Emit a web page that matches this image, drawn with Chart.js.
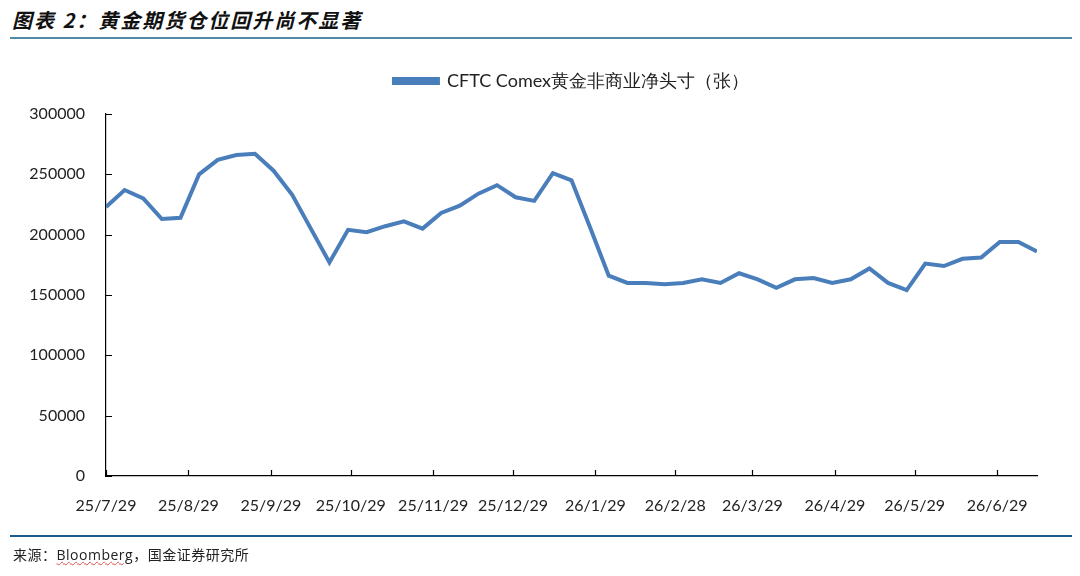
<!DOCTYPE html>
<html>
<head>
<meta charset="utf-8">
<script src="https://cdn.jsdelivr.net/npm/chart.js@4.4.1/dist/chart.umd.min.js"></script>
<style>
    html, body { margin: 0; padding: 0; background: #fff; }
    #wrap { position: relative; width: 1080px; height: 576px; overflow: hidden; }
    #chart_cot { position: absolute; left: 0; top: 0; }
    #titulo {
        position: absolute; left: 12px; top: 5px;
        font-family: "Noto Sans CJK SC", sans-serif; font-size: 20px;
        font-style: italic; font-weight: bold; color: #111; letter-spacing: 2px;
    }
    #linha_topo { position: absolute; left: 10px; top: 37px; width: 1062px; height: 2px; background: #4f8aa6; }
    #linha_base { position: absolute; left: 10px; top: 535px; width: 1062px; height: 2px; background: #1f5a88; }
    #fonte {
        position: absolute; left: 13px; top: 544px;
        font-family: "Noto Sans CJK SC", sans-serif; font-size: 14px; color: #222; letter-spacing: 0.5px;
    }
    #fonte span { font-family: "Open Sans", sans-serif; text-decoration: underline wavy #e05050; text-decoration-thickness: 1px; }
</style>
</head>
<body>
<div id="wrap">
    <div id="titulo">图表 2：黄金期货仓位回升尚不显著</div>
    <div id="linha_topo"></div>
    <canvas id="chart_cot" width="1080" height="576"></canvas>
    <div id="linha_base"></div>
    <div id="fonte">来源：<span>Bloomberg</span>，国金证券研究所</div>
</div>
<script>
// datas semanais (terças-feiras) do relatório CFTC
const datas = ['2025-07-29', '2025-08-05', '2025-08-12', '2025-08-19', '2025-08-26', '2025-09-02', '2025-09-09', '2025-09-16', '2025-09-23', '2025-09-30',
    '2025-10-07', '2025-10-14', '2025-10-21', '2025-10-28', '2025-11-04', '2025-11-11', '2025-11-18', '2025-11-25', '2025-12-02', '2025-12-09',
    '2025-12-16', '2025-12-23', '2025-12-30', '2026-01-06', '2026-01-13', '2026-01-20', '2026-01-27', '2026-02-03', '2026-02-10', '2026-02-17',
    '2026-02-24', '2026-03-03', '2026-03-10', '2026-03-17', '2026-03-24', '2026-03-31', '2026-04-07', '2026-04-14', '2026-04-21', '2026-04-28',
    '2026-05-05', '2026-05-12', '2026-05-19', '2026-05-26', '2026-06-02', '2026-06-09', '2026-06-16', '2026-06-23', '2026-06-30', '2026-07-07',
    '2026-07-14'];

const posicoes = [223000, 237000, 230000, 213000, 214000, 250000, 262000, 266000, 267000, 253000,
    233000, 205000, 177000, 204000, 202000, 207000, 211000, 205000, 218000, 224000,
    234000, 241000, 231000, 228000, 251000, 245000, 206000, 166000, 160000, 160000,
    159000, 160000, 163000, 160000, 168000, 163000, 156000, 163000, 164000, 160000,
    163000, 172000, 160000, 154000, 176000, 174000, 180000, 181000, 194000, 194000,
    186000];

const datasEixo = ['2025-07-29', '2025-08-29', '2025-09-29', '2025-10-29', '2025-11-29', '2025-12-29', '2026-01-29', '2026-02-28', '2026-03-29', '2026-04-29', '2026-05-29', '2026-06-29'];
const rotulosEixo = ['25/7/29', '25/8/29', '25/9/29', '25/10/29', '25/11/29', '25/12/29', '26/1/29', '26/2/28', '26/3/29', '26/4/29', '26/5/29', '26/6/29'];

const inicio = Date.parse(datas[0]);
function dias(d) { return Math.round((Date.parse(d) - inicio) / 86400000); } // dias desde o início

const pontos = datas.map((d, i) => ({ x: dias(d), y: posicoes[i] }));
const ticksX = datasEixo.map(dias);

const azul = '#4a7ebb';

// legenda centrada na área do gráfico + marcas dos eixos para dentro
const ajustes = {
    id: 'ajustes',
    beforeInit(chart) {
        const fitOriginal = chart.legend.fit;
        chart.legend.fit = function () {
            fitOriginal.bind(chart.legend)();
            this.height += 14;
        };
    },
    afterLayout(chart) {
        const lg = chart.legend;
        lg.left = chart.chartArea.left;
        lg.right = chart.chartArea.right;
        lg.width = lg.right - lg.left;
    },
    afterDraw(chart) {
        const c = chart.ctx;
        const x = chart.scales.x, y = chart.scales.y;
        c.save();
        c.strokeStyle = '#000';
        c.lineWidth = 1.2;
        c.beginPath();
        x.ticks.forEach(t => {
            const px = Math.round(x.getPixelForValue(t.value)) + 0.5;
            c.moveTo(px, y.bottom);
            c.lineTo(px, y.bottom - 6);
        });
        y.ticks.forEach(t => {
            const py = Math.round(y.getPixelForValue(t.value)) + 0.5;
            c.moveTo(x.left, py);
            c.lineTo(x.left + 6, py);
        });
        c.stroke();
        c.restore();
    }
};

new Chart(document.getElementById('chart_cot'), {
    type: 'line',
    data: {
        datasets: [{
            label: 'CFTC Comex黄金非商业净头寸（张）',
            data: pontos,
            borderColor: azul,
            backgroundColor: azul,
            borderWidth: 4,
            pointRadius: 0,
            tension: 0
        }]
    },
    options: {
        responsive: false,
        animation: false,
        layout: {
            padding: { top: 62, left: 0, right: 43, bottom: 60 }
        },
        scales: {
            x: {
                type: 'linear',
                min: 0,
                max: 350,
                afterBuildTicks(scale) {
                    scale.ticks = ticksX.map(v => ({ value: v }));
                },
                afterFit(scale) { scale.height = 40; },
                grid: { display: false },
                border: { display: true, color: '#000', width: 1.2 },
                ticks: {
                    autoSkip: false,
                    maxRotation: 0,
                    padding: 12,
                    color: '#222',
                    font: { family: 'Lato', size: 16 },
                    callback: (v) => rotulosEixo[ticksX.indexOf(v)]
                }
            },
            y: {
                min: 0,
                max: 300000,
                afterFit(scale) { scale.width = 106; },
                grid: { display: false },
                border: { display: true, color: '#000', width: 1.2 },
                ticks: {
                    stepSize: 50000,
                    padding: 13,
                    color: '#222',
                    font: { family: 'Lato', size: 16 },
                    callback: (v) => String(v)
                }
            }
        },
        plugins: {
            legend: {
                display: true,
                position: 'top',
                labels: {
                    boxWidth: 44,
                    boxHeight: 4,
                    color: '#222',
                    font: { family: 'Lato', size: 18 }
                }
            },
            tooltip: { enabled: false }
        }
    },
    plugins: [ajustes]
});
</script>
</body>
</html>
